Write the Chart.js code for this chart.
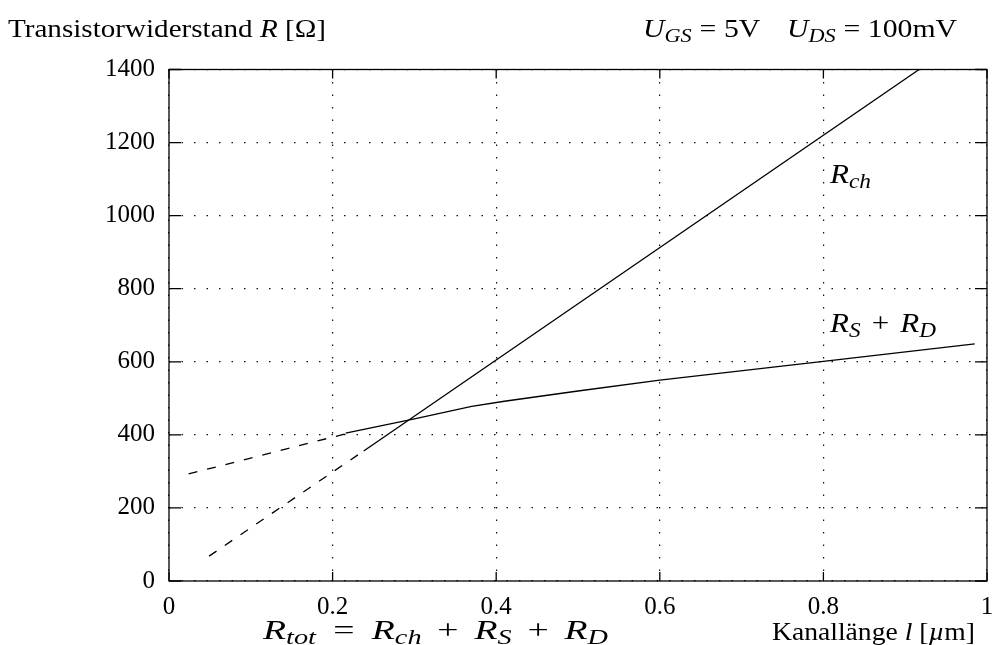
<!DOCTYPE html>
<html><head><meta charset="utf-8">
<script src="https://cdn.jsdelivr.net/npm/chart.js@4"></script>
<style>html,body{margin:0;padding:0;background:#fff}canvas{display:block}</style>
</head><body>
<canvas id="c" width="992" height="645"></canvas>
<script>
// ---- data ----
const xTickValues = [0, 0.2, 0.4, 0.6, 0.8, 1];
const xTickLabels = ['0', '0.2', '0.4', '0.6', '0.8', '1'];
const yTickValues = [0, 200, 400, 600, 800, 1000, 1200, 1400];
const yTickLabels = ['0', '200', '400', '600', '800', '1000', '1200', '1400'];

const rchDashedL = [0.049, 0.238];
const rchDashedR = [68, 356];
const rchSolidL = [0.238, 0.917];
const rchSolidR = [356, 1400];

const rsdDashedL = [0.024, 0.216];
const rsdDashedR = [293, 403];
const rsdSolidL = [0.216, 0.3, 0.37, 0.41, 0.5, 0.6, 0.8, 0.985];
const rsdSolidR = [405, 444, 478, 492, 520, 550, 601, 649];

// ---- styles ----
const FONT = '"Liberation Serif", "Times New Roman", serif';
const FS = 25;

function pts(xs, ys) { return xs.map((x, i) => ({x: x, y: ys[i]})); }

function segFont(seg, size) {
  const sz = seg.s ? size * 0.75 : size;
  return (seg.i ? 'italic ' : '') + sz + 'px ' + FONT;
}
function segW(ctx, s, size) {
  if (s.g !== undefined) return s.g * size;
  ctx.font = segFont(s, size);
  return ctx.measureText(s.t).width;
}
function richWidth(ctx, segs, size) {
  let w = 0;
  for (const s of segs) w += segW(ctx, s, size);
  return w;
}
function drawRich(ctx, segs, x, baseline, size, align, target) {
  const w = richWidth(ctx, segs, size);
  const sx = target ? target / w : 1;
  const tw = w * sx;
  const x0 = align === 'right' ? x - tw : (align === 'center' ? x - tw / 2 : x);
  ctx.save();
  ctx.translate(x0, baseline);
  ctx.scale(sx, 1);
  ctx.fillStyle = '#000';
  ctx.textBaseline = 'alphabetic';
  ctx.textAlign = 'left';
  let cx = 0;
  for (const s of segs) {
    if (s.g === undefined) {
      ctx.font = segFont(s, size);
      ctx.fillText(s.t, cx, s.s ? size * 0.18 : 0);
    }
    cx += segW(ctx, s, size);
  }
  ctx.restore();
}

const R = {t: 'R', i: 1};
const sub = (t) => ({t: t, i: 1, s: 1});
const gap = (g) => ({g: g});

const textPlugin = {
  id: 'texts',
  afterDatasetsDraw(chart) {
    const ctx = chart.ctx;
    const a = chart.chartArea;
    const xs = chart.scales.x, ys = chart.scales.y;
    // frame and inward ticks
    ctx.save();
    ctx.strokeStyle = '#000';
    ctx.lineWidth = 1.3;
    ctx.strokeRect(a.left, a.top, a.right - a.left, a.bottom - a.top);
    ctx.beginPath();
    for (const v of yTickValues) {
      const p = ys.getPixelForValue(v);
      ctx.moveTo(a.left, p); ctx.lineTo(a.left + 12, p);
      ctx.moveTo(a.right, p); ctx.lineTo(a.right - 12, p);
    }
    for (const v of xTickValues) {
      const p = xs.getPixelForValue(v);
      ctx.moveTo(p, a.bottom); ctx.lineTo(p, a.bottom - 9);
      ctx.moveTo(p, a.top); ctx.lineTo(p, a.top + 9);
    }
    ctx.stroke();
    ctx.restore();

    drawRich(ctx, [{t: 'Transistorwiderstand '}, R, {t: ' [Ω]'}], 8, 37, FS, 'left', 318);
    drawRich(ctx, [{t: 'U', i: 1}, sub('GS'), gap(0.26), {t: '='}, gap(0.26), {t: '5V'}, gap(0.9),
                   {t: 'U', i: 1}, sub('DS'), gap(0.26), {t: '='}, gap(0.26), {t: '100mV'}], 643, 37, FS, 'left', 314);
    drawRich(ctx, [R, sub('ch')], 830, 183, 28, 'left', 41);
    drawRich(ctx, [R, sub('S'), gap(0.36), {t: '+'}, gap(0.36), R, sub('D')], 830, 332, 28, 'left', 106);
    drawRich(ctx, [R, sub('tot'), gap(0.46), {t: '='}, gap(0.46), R, sub('ch'), gap(0.42), {t: '+'}, gap(0.42),
                   R, sub('S'), gap(0.42), {t: '+'}, gap(0.42), R, sub('D')], 263, 639, 28, 'left', 345);
    drawRich(ctx, [{t: 'Kanallänge '}, {t: 'l', i: 1}, {t: ' ['}, {t: 'µ', i: 1}, {t: 'm]'}], 975, 640, FS, 'right', 203);
  }
};

const lineStyle = (dash) => ({
  borderColor: '#000', borderWidth: 1.3, pointRadius: 0, tension: 0,
  fill: false, borderDash: dash, showLine: true
});

new Chart(document.getElementById('c'), {
  type: 'line',
  data: {
    datasets: [
      Object.assign({label: 'Rch dashed', data: pts(rchDashedL, rchDashedR)}, lineStyle([9, 10])),
      Object.assign({label: 'Rch', data: pts(rchSolidL, rchSolidR)}, lineStyle([])),
      Object.assign({label: 'RS+RD dashed', data: pts(rsdDashedL, rsdDashedR)}, lineStyle([9, 10])),
      Object.assign({label: 'RS+RD', data: pts(rsdSolidL, rsdSolidR)}, lineStyle([]))
    ]
  },
  options: {
    responsive: false,
    animation: false,
    devicePixelRatio: 1,
    layout: {padding: {top: 69.5, right: 5, left: 0, bottom: 0}},
    plugins: {legend: {display: false}, tooltip: {enabled: false}},
    scales: {
      x: {
        type: 'linear', min: 0, max: 1,
        afterBuildTicks: (s) => { s.ticks = xTickValues.map(v => ({value: v})); },
        afterFit: (s) => { s.height = 64; s.paddingLeft = 0; s.paddingRight = 0; },
        ticks: {
          callback: (v) => { const i = xTickValues.findIndex(t => Math.abs(t - v) < 1e-9); return i >= 0 ? xTickLabels[i] : ''; },
          font: {family: FONT, size: FS}, color: '#000', padding: 11, maxRotation: 0, autoSkip: false
        },
        grid: {color: '#111', lineWidth: 1.2, drawTicks: false},
        border: {display: false, dash: [1.5, 11]}
      },
      y: {
        type: 'linear', min: 0, max: 1400,
        afterBuildTicks: (s) => { s.ticks = yTickValues.map(v => ({value: v})); },
        afterFit: (s) => { s.width = 169; s.paddingTop = 0; s.paddingBottom = 0; },
        ticks: {
          callback: (v) => { const i = yTickValues.indexOf(v); return i >= 0 ? yTickLabels[i] : ''; },
          font: {family: FONT, size: FS}, color: '#000', padding: 14, autoSkip: false
        },
        grid: {color: '#111', lineWidth: 1.2, drawTicks: false},
        border: {display: false, dash: [1.5, 11]}
      }
    }
  },
  plugins: [textPlugin]
});
</script>
</body></html>
